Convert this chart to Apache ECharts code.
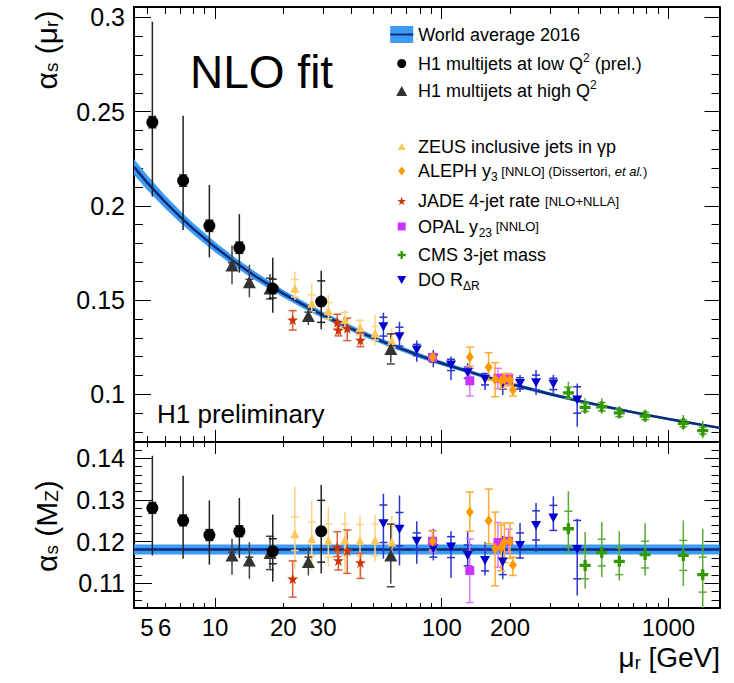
<!DOCTYPE html>
<html>
<head>
<meta charset="utf-8">
<script src="https://cdn.jsdelivr.net/npm/echarts@6/dist/echarts.min.js"></script>
<style>
  html, body { margin: 0; padding: 0; background: #fff; }
  #chart { width: 734px; height: 683px; }
</style>
</head>
<body>
<div id="chart"></div>
<script>
// ---------- world average running coupling ----------
const curveMu  = [4.39, 5, 6, 7, 8, 10, 12, 15, 20, 25, 30, 40, 50, 60, 80, 91.19, 100, 150, 200, 300, 400, 600, 800, 1000, 1300, 1690];
const curveAs  = [0.2207, 0.2126, 0.2022, 0.1943, 0.1879, 0.1781, 0.1709, 0.1628, 0.1534, 0.1469, 0.1420, 0.1349, 0.1299, 0.1261, 0.1205, 0.1181, 0.1165, 0.1099, 0.1056, 0.1002, 0.0966, 0.0921, 0.0891, 0.0869, 0.0845, 0.0822];
const curveErr = [0.0042, 0.0039, 0.0035, 0.0032, 0.0030, 0.0027, 0.0025, 0.0023, 0.0020, 0.0019, 0.0017, 0.0016, 0.0015, 0.0014, 0.0013, 0.0012, 0.0012, 0.0010, 0.0010, 0.0009, 0.0008, 0.0007, 0.0007, 0.0007, 0.0006, 0.0006];
const waMz = 0.1181;
const waMzErr = 0.0012;

// ---------- H1 multijets, low Q2 ----------
const h1LowMu      = [5.29, 7.23, 9.44, 12.8, 17.97, 29.4];
const h1LowTop     = [0.2444, 0.2134, 0.1894, 0.1778, 0.1561, 0.1492];
const h1LowTopHi   = [0.2977, 0.2478, 0.2111, 0.1956, 0.1725, 0.1656];
const h1LowTopLo   = [0.2049, 0.1872, 0.1727, 0.1646, 0.1433, 0.1345];
const h1LowTopStat = [0.003, 0.003, 0.003, 0.003, 0.005, 0.011];
const h1LowMz      = [0.1281, 0.1251, 0.1216, 0.1225, 0.1177, 0.1225];
const h1LowMzHi    = [0.1406, 0.1358, 0.1299, 0.1305, 0.1265, 0.1336];
const h1LowMzLo    = [0.1167, 0.1159, 0.1145, 0.1161, 0.1104, 0.1124];
const h1LowMzStat  = [0.0013, 0.0013, 0.0013, 0.0013, 0.003, 0.0074];

// ---------- H1 multijets, high Q2 ----------
const h1HighMu      = [11.88, 14.17, 17.48, 25.8, 59.6];
const h1HighTop     = [0.1683, 0.1595, 0.1561, 0.1416, 0.1241];
const h1HighTopHi   = [0.1789, 0.1687, 0.1639, 0.1457, 0.1324];
const h1HighTopLo   = [0.1584, 0.1515, 0.1501, 0.1368, 0.1168];
const h1HighTopStat = [0.0015, 0.0015, 0.0055, 0.002, 0.008];
const h1HighMz      = [0.1167, 0.1155, 0.1173, 0.1151, 0.1167];
const h1HighMzHi    = [0.1207, 0.1199, 0.1213, 0.1187, 0.1243];
const h1HighMzLo    = [0.1121, 0.1111, 0.1135, 0.1119, 0.1099];
const h1HighMzStat  = [0.0008, 0.0008, 0.004, 0.0012, 0.0075];

// ---------- ZEUS inclusive jets in photoproduction ----------
const zeusMu      = [22.5, 26.7, 31.6, 37.4, 43.6, 50.8, 60.2];
const zeusTop     = [0.1563, 0.1483, 0.1444, 0.1395, 0.1354, 0.1324, 0.1285];
const zeusTopHi   = [0.1651, 0.1589, 0.1527, 0.1448, 0.1398, 0.1421, 0.1350];
const zeusTopLo   = [0.1501, 0.1430, 0.1386, 0.1332, 0.1306, 0.1262, 0.1240];
const zeusTopStat = [0.0046, 0.0045, 0.0043, 0.0040, 0.0038, 0.0036, 0.0035];
const zeusMz      = [0.1219, 0.1207, 0.1203, 0.1205, 0.1203, 0.1204, 0.1200];
const zeusMzHi    = [0.1331, 0.1297, 0.1283, 0.1271, 0.1263, 0.1264, 0.1262];
const zeusMzLo    = [0.1135, 0.1131, 0.1140, 0.1123, 0.1111, 0.1152, 0.1168];
const zeusMzStat  = [0.0040, 0.0040, 0.0040, 0.0038, 0.0038, 0.0038, 0.0036];

// ---------- ALEPH y3 ----------
const alephMu    = [91.2, 133, 161, 172, 183, 189, 200, 206];
const alephTop   = [0.1196, 0.1198, 0.1143, 0.1078, 0.1072, 0.1080, 0.1076, 0.1023];
const alephTopHi = [0.1215, 0.1250, 0.1221, 0.1168, 0.1102, 0.1110, 0.1105, 0.1058];
const alephTopLo = [0.1178, 0.1150, 0.1076, 0.0987, 0.1032, 0.1045, 0.1045, 0.0991];
const alephMz    = [0.1201, 0.1271, 0.1250, 0.1184, 0.1186, 0.1199, 0.1201, 0.1144];
const alephMzHi  = [0.1225, 0.1319, 0.1326, 0.1271, 0.1240, 0.1245, 0.1245, 0.1163];
const alephMzLo  = [0.1180, 0.1225, 0.1195, 0.1094, 0.1130, 0.1150, 0.1160, 0.1119];

// ---------- JADE 4-jet rate ----------
const jadeMu    = [22.0, 34.6, 35.0, 38.3, 43.8];
const jadeTop   = [0.1395, 0.1382, 0.1341, 0.1350, 0.1288];
const jadeTopHi = [0.1444, 0.1425, 0.1375, 0.1404, 0.1324];
const jadeTopLo = [0.1341, 0.1345, 0.1310, 0.1285, 0.1253];
const jadeMz    = [0.1111, 0.1187, 0.1155, 0.1179, 0.1150];
const jadeMzHi  = [0.1154, 0.1224, 0.1176, 0.1228, 0.1172];
const jadeMzLo  = [0.1067, 0.1164, 0.1132, 0.1124, 0.1112];

// ---------- OPAL y23 ----------
const opalMu    = [91.0, 133, 177, 197];
const opalTop   = [0.1196, 0.1072, 0.1085, 0.1080];
const opalTopHi = [0.1215, 0.1138, 0.1138, 0.1110];
const opalTopLo = [0.1178, 0.0991, 0.1030, 0.1050];
const opalMz    = [0.1201, 0.1131, 0.1198, 0.1201];
const opalMzHi  = [0.1227, 0.1207, 0.1246, 0.1230];
const opalMzLo  = [0.1175, 0.1054, 0.1139, 0.1175];

// ---------- CMS 3-jet mass ----------
const cmsMu      = [362, 429, 508, 607, 789, 1163, 1417];
const cmsTop     = [0.1008, 0.0931, 0.0934, 0.0902, 0.0885, 0.0846, 0.0807];
const cmsTopHi   = [0.1067, 0.0979, 0.0979, 0.0938, 0.0920, 0.0890, 0.0860];
const cmsTopLo   = [0.0970, 0.0895, 0.0897, 0.0873, 0.0855, 0.0810, 0.0766];
const cmsTopStat = [0.0030, 0.0022, 0.0022, 0.0020, 0.0019, 0.0018, 0.0018];
const cmsMz      = [0.1231, 0.1143, 0.1174, 0.1153, 0.1169, 0.1167, 0.1121];
const cmsMzHi    = [0.1321, 0.1223, 0.1247, 0.1225, 0.1245, 0.1251, 0.1231];
const cmsMzLo    = [0.1171, 0.1087, 0.1115, 0.1107, 0.1119, 0.1094, 0.1030];
const cmsMzStat  = [0.0042, 0.0032, 0.0032, 0.0032, 0.0032, 0.0036, 0.0042];

// ---------- D0 R_dR ----------
const d0Mu      = [55.3, 65.1, 77.6, 91.8, 109.9, 130.2, 155.2, 185.8, 221.5, 260.6, 310.7, 396];
const d0Top     = [0.1359, 0.1306, 0.1235, 0.1191, 0.1156, 0.1115, 0.1080, 0.1058, 0.1058, 0.1062, 0.1055, 0.0970];
const d0TopHi   = [0.1433, 0.1385, 0.1285, 0.1235, 0.1200, 0.1165, 0.1115, 0.1102, 0.1103, 0.1129, 0.1103, 0.1058];
const d0TopLo   = [0.1288, 0.1235, 0.1173, 0.1143, 0.1076, 0.1067, 0.1023, 0.0996, 0.1012, 0.0996, 0.1005, 0.0828];
const d0TopStat = [0.005, 0.005, 0.003, 0.002, 0.003, 0.003, 0.003, 0.003, 0.003, 0.004, 0.003, 0.007];
const d0Mz      = [0.1243, 0.1230, 0.1201, 0.1183, 0.1187, 0.1167, 0.1155, 0.1151, 0.1191, 0.1239, 0.1257, 0.1181];
const d0MzHi    = [0.1315, 0.1311, 0.1249, 0.1231, 0.1225, 0.1223, 0.1199, 0.1214, 0.1245, 0.1293, 0.1309, 0.1255];
const d0MzLo    = [0.1159, 0.1143, 0.1147, 0.1155, 0.1113, 0.1125, 0.1119, 0.1110, 0.1159, 0.1174, 0.1227, 0.1071];
const d0MzStat  = [0.0045, 0.004, 0.002, 0.002, 0.0025, 0.0025, 0.0025, 0.003, 0.003, 0.0035, 0.003, 0.007];

// ---------- axis ticks and labels ----------
const muRange       = [4.39, 1680];
const xMinorTicks   = [5, 6, 7, 8, 9, 20, 30, 40, 50, 60, 70, 80, 90, 200, 300, 400, 500, 600, 700, 800, 900];
const xMajorTicks   = [10, 100, 1000];
const xTickLabels   = [5, 6, 10, 20, 30, 100, 200, 1000];
const topRange      = [0.0747, 0.3055];
const topMajorTicks = [0.1, 0.15, 0.2, 0.25, 0.3];
const topMinorTicks = [0.08, 0.09, 0.11, 0.12, 0.13, 0.14, 0.16, 0.17, 0.18, 0.19, 0.21, 0.22, 0.23, 0.24, 0.26, 0.27, 0.28, 0.29];
const botRange      = [0.1041, 0.1439];
const botMajorTicks = [0.11, 0.12, 0.13, 0.14];
const botMinorTicks = [0.106, 0.108, 0.112, 0.114, 0.116, 0.118, 0.122, 0.124, 0.126, 0.128, 0.132, 0.134, 0.136, 0.138, 0.142];

// ---------- drawing ----------
const FONT = 'Liberation Sans, Arial, Helvetica, sans-serif';
const BAND = '#3d9bf5';
const NAVY = '#0b2b78';
const lg = Math.log10;
const X_MIN = lg(muRange[0]);
const X_MAX = lg(muRange[1]);

const N_WA = 'World average 2016';
const N_H1L = 'H1 multijets at low Q2 (prel.)';
const N_H1H = 'H1 multijets at high Q2';
const N_ZEUS = 'ZEUS inclusive jets in γp';
const N_ALEPH = 'ALEPH y3 [NNLO] (Dissertori, et al.)';
const N_JADE = 'JADE 4-jet rate [NLO+NLLA]';
const N_OPAL = 'OPAL y23 [NNLO]';
const N_CMS = 'CMS 3-jet mass';
const N_D0 = 'DO RΔR';

const richLabels = {};
richLabels[N_WA] = '{t|World average 2016}';
richLabels[N_H1L] = '{t|H1 multijets at low Q}{sup|2}{t| (prel.)}';
richLabels[N_H1H] = '{t|H1 multijets at high Q}{sup|2}';
richLabels[N_ZEUS] = '{t|ZEUS inclusive jets in γp}';
richLabels[N_ALEPH] = '{t|ALEPH y}{sub|3}{sm| [NNLO] (Dissertori, }{smi|et al.}{sm|)}';
richLabels[N_JADE] = '{t|JADE 4-jet rate }{sm|[NLO+NLLA]}';
richLabels[N_OPAL] = '{t|OPAL y}{sub|23}{sm| [NNLO]}';
richLabels[N_CMS] = '{t|CMS 3-jet mass}';
richLabels[N_D0] = '{t|DO R}{sub|ΔR}';

const STAR = 'path://M50,0L61,35L98,35L68,57L79,91L50,70L21,91L32,57L2,35L39,35Z';
const CROSS = 'path://M35,0H65V35H100V65H65V100H35V65H0V35H35Z';
const DOWN = 'path://M0,0H100L50,87Z';

// each measurement: values in both panels, marker and bar style
const sets = [
  { name: N_ZEUS, mu: zeusMu, top: [zeusTop, zeusTopHi, zeusTopLo, zeusTopStat], mz: [zeusMz, zeusMzHi, zeusMzLo, zeusMzStat],
    symbol: 'triangle', size: 9, color: '#ffc65a', bar: '#ffd27f' },
  { name: N_JADE, mu: jadeMu, top: [jadeTop, jadeTopHi, jadeTopLo, null], mz: [jadeMz, jadeMzHi, jadeMzLo, null],
    symbol: STAR, size: 11, color: '#cc3300', bar: '#d9603a' },
  { name: N_D0, mu: d0Mu, top: [d0Top, d0TopHi, d0TopLo, d0TopStat], mz: [d0Mz, d0MzHi, d0MzLo, d0MzStat],
    symbol: DOWN, size: [10, 9], color: '#0000cc', bar: '#2a35cc' },
  { name: N_OPAL, mu: opalMu, top: [opalTop, opalTopHi, opalTopLo, null], mz: [opalMz, opalMzHi, opalMzLo, null],
    symbol: 'rect', size: 9, color: '#cc33ff', bar: '#dc7cff' },
  { name: N_ALEPH, mu: alephMu, top: [alephTop, alephTopHi, alephTopLo, null], mz: [alephMz, alephMzHi, alephMzLo, null],
    symbol: 'diamond', size: [8, 11], color: '#ff9900', bar: '#ffab33' },
  { name: N_CMS, mu: cmsMu, top: [cmsTop, cmsTopHi, cmsTopLo, cmsTopStat], mz: [cmsMz, cmsMzHi, cmsMzLo, cmsMzStat],
    symbol: CROSS, size: 11, color: '#339900', bar: '#5aab33' },
  { name: N_H1H, mu: h1HighMu, top: [h1HighTop, h1HighTopHi, h1HighTopLo, h1HighTopStat], mz: [h1HighMz, h1HighMzHi, h1HighMzLo, h1HighMzStat],
    symbol: 'triangle', size: [13, 12], color: '#333333', bar: '#444444' },
  { name: N_H1L, mu: h1LowMu, top: [h1LowTop, h1LowTopHi, h1LowTopLo, h1LowTopStat], mz: [h1LowMz, h1LowMzHi, h1LowMzLo, h1LowMzStat],
    symbol: 'circle', size: 12, color: '#000000', bar: '#222222' }
];

function points(mu, v) { return mu.map((m, i) => [lg(m), v[i]]); }
function bars(mu, v, hi, lo, stat) {
  return mu.map((m, i) => {
    const s = stat ? stat[i] : null;
    return [lg(m), lo[i], hi[i], s == null ? lo[i] : v[i] - s, s == null ? hi[i] : v[i] + s];
  });
}
function barRenderer(color) {
  return function (params, api) {
    const x = api.value(0);
    const a = api.coord([x, api.value(1)]);
    const b = api.coord([x, api.value(2)]);
    const s1 = api.coord([x, api.value(3)]);
    const s2 = api.coord([x, api.value(4)]);
    const st = { stroke: color, lineWidth: 1.5 };
    return {
      type: 'group',
      children: [
        { type: 'line', shape: { x1: a[0], y1: a[1], x2: b[0], y2: b[1] }, style: st },
        { type: 'line', shape: { x1: s1[0] - 4, y1: s1[1], x2: s1[0] + 4, y2: s1[1] }, style: st },
        { type: 'line', shape: { x1: s2[0] - 4, y1: s2[1], x2: s2[0] + 4, y2: s2[1] }, style: st }
      ]
    };
  };
}

// axis factories: every frame edge gets a short-tick axis and a long-tick axis
function xAx(grid, pos, ticks, len, line, labels) {
  return {
    type: 'value', gridIndex: grid, position: pos, min: X_MIN, max: X_MAX,
    axisLine: { show: line, onZero: false, lineStyle: { color: '#000', width: 2 } },
    axisTick: { show: true, inside: true, length: len, customValues: ticks.map(lg), lineStyle: { color: '#000', width: 1 } },
    axisLabel: labels ? {
      show: true, customValues: labels.map(lg), margin: 7, color: '#000', fontSize: 24, fontFamily: FONT,
      formatter: v => String(Math.round(Math.pow(10, v)))
    } : { show: false },
    splitLine: { show: false }
  };
}
function yAx(grid, pos, range, ticks, len, line, labels) {
  return {
    type: 'value', gridIndex: grid, position: pos, min: range[0], max: range[1],
    axisLine: { show: line, onZero: false, lineStyle: { color: '#000', width: 2 } },
    axisTick: { show: true, inside: true, length: len, customValues: ticks, lineStyle: { color: '#000', width: 1 } },
    axisLabel: labels ? {
      show: true, customValues: labels, margin: 9, color: '#000', fontSize: 25, fontFamily: FONT,
      formatter: v => String(+v.toFixed(3))
    } : { show: false },
    splitLine: { show: false }
  };
}

const xAxes = [
  xAx(0, 'bottom', xMinorTicks, 6, true, null),
  xAx(0, 'bottom', xMajorTicks, 12, false, null),
  xAx(0, 'top', xMinorTicks, 7, true, null),
  xAx(0, 'top', xMajorTicks, 12, false, null),
  xAx(1, 'bottom', xMinorTicks, 5, true, xTickLabels),
  xAx(1, 'bottom', xMajorTicks, 10, false, null),
  xAx(1, 'top', xMinorTicks, 5, true, null),
  xAx(1, 'top', xMajorTicks, 12, false, null)
];
const yAxes = [
  yAx(0, 'left', topRange, topMinorTicks, 9, true, null),
  yAx(0, 'left', topRange, topMajorTicks, 17, false, topMajorTicks),
  yAx(0, 'right', topRange, topMinorTicks, 8, true, null),
  yAx(0, 'right', topRange, topMajorTicks, 15, false, null),
  yAx(1, 'left', botRange, botMinorTicks, 8, true, null),
  yAx(1, 'left', botRange, botMajorTicks, 18, false, botMajorTicks),
  yAx(1, 'right', botRange, botMinorTicks, 8, true, null),
  yAx(1, 'right', botRange, botMajorTicks, 15, false, null)
];

const series = [];
// running coupling: uncertainty band as one polygon, then the central line
const bandData = curveMu.map((m, i) => [lg(m), curveAs[i] - curveErr[i], curveAs[i] + curveErr[i]]);
series.push({
  type: 'custom', name: N_WA, xAxisIndex: 0, yAxisIndex: 0, silent: true, clip: true, z: 1,
  itemStyle: { color: BAND }, data: bandData,
  renderItem: (params, api) => {
    if (params.dataIndex !== 0) return null;
    const upper = bandData.map(d => api.coord([d[0], d[2]]));
    const lower = bandData.map(d => api.coord([d[0], d[1]])).reverse();
    return { type: 'polygon', shape: { points: upper.concat(lower) }, style: { fill: BAND } };
  }
});
series.push({
  type: 'line', xAxisIndex: 0, yAxisIndex: 0, silent: true, symbol: 'none', z: 2,
  data: curveMu.map((m, i) => [lg(m), curveAs[i]]), lineStyle: { color: NAVY, width: 2.5 }
});
// world average at M_Z
series.push({
  type: 'line', xAxisIndex: 4, yAxisIndex: 4, silent: true, symbol: 'none', z: 2,
  data: [[X_MIN, waMz], [X_MAX, waMz]], lineStyle: { color: NAVY, width: 2.5 },
  markArea: { silent: true, itemStyle: { color: BAND, opacity: 1 }, data: [[{ yAxis: waMz - waMzErr }, { yAxis: waMz + waMzErr }]] }
});

sets.forEach(s => {
  [[0, s.top], [4, s.mz]].forEach(([ax, v]) => {
    series.push({
      type: 'custom', xAxisIndex: ax, yAxisIndex: ax, silent: true, clip: true, z: 3,
      data: bars(s.mu, v[0], v[1], v[2], v[3]), renderItem: barRenderer(s.bar)
    });
  });
});
sets.forEach(s => {
  [[0, s.top], [4, s.mz]].forEach(([ax, v]) => {
    series.push({
      type: 'scatter', name: s.name, xAxisIndex: ax, yAxisIndex: ax, silent: true, z: 5,
      symbol: s.symbol, symbolSize: s.size, itemStyle: { color: s.color, opacity: 1 },
      data: points(s.mu, v[0])
    });
  });
});

// one legend block per row; marker centred at x = 401.7, text starting at x = 418
const ICON_CX = 401.7;
const TEXT_X = 418;
const legendRows = [
  [N_WA, 34.5, 23, 17, 'rect'], [N_H1L, 63.5, 9, 9], [N_H1H, 91, 11, 10],
  [N_ZEUS, 146.5, 8, 7], [N_ALEPH, 171, 7, 9], [N_JADE, 201, 9, 9],
  [N_OPAL, 226.5, 8, 8], [N_CMS, 255, 8, 8], [N_D0, 280, 9, 8]
];
const legendRich = {
  t: { fontSize: 18, lineHeight: 24, color: '#000', fontFamily: FONT },
  sup: { fontSize: 12, lineHeight: 16, verticalAlign: 'top', color: '#000', fontFamily: FONT },
  sub: { fontSize: 12, lineHeight: 10, verticalAlign: 'bottom', color: '#000', fontFamily: FONT },
  sm: { fontSize: 13, lineHeight: 24, color: '#000', fontFamily: FONT },
  smi: { fontSize: 13, lineHeight: 24, fontStyle: 'italic', color: '#000', fontFamily: FONT }
};
const legends = legendRows.map(([name, cy, w, h, icon]) => {
  const left = ICON_CX - w / 2;
  const gap = Math.max(0, TEXT_X - (left + w + 5));
  return {
    left: left, top: cy - 12, padding: 0, orient: 'vertical', selectedMode: false,
    itemWidth: w, itemHeight: h, symbolKeepAspect: true,
    data: [icon ? { name: name, icon: icon, itemStyle: { color: BAND } } : { name: name }],
    formatter: n => richLabels[n],
    textStyle: { fontSize: 18, lineHeight: 24, color: '#000', fontFamily: FONT, padding: [0, 0, 0, gap], rich: legendRich }
  };
});

const titleRich = {
  a: { fontSize: 30, lineHeight: 30, color: '#000', fontFamily: FONT },
  s: { fontSize: 19, lineHeight: 6, verticalAlign: 'bottom', color: '#000', fontFamily: FONT }
};

const option = {
  animation: false,
  backgroundColor: '#fff',
  textStyle: { fontFamily: FONT },
  grid: [
    { left: 134, top: 7, width: 585.5, height: 435, outerBoundsMode: 'none', containLabel: false },
    { left: 134, top: 442, width: 585.5, height: 166, outerBoundsMode: 'none', containLabel: false }
  ],
  xAxis: xAxes,
  yAxis: yAxes,
  legend: legends,
  series: series,
  graphic: [
    { type: 'rect', z: 100, shape: { x: 390.2, y: 33.5, width: 23, height: 2 }, style: { fill: NAVY } },
    { type: 'text', z: 100, x: 190, y: 71.5, style: { text: 'NLO fit', fontSize: 46, fontFamily: FONT, fill: '#000', align: 'left', verticalAlign: 'middle' } },
    { type: 'text', z: 100, x: 157, y: 414, style: { text: 'H1 preliminary', fontSize: 26, fontFamily: FONT, fill: '#000', align: 'left', verticalAlign: 'middle' } },
    { type: 'text', z: 100, x: 46, y: 50, rotation: Math.PI / 2,
      style: { text: '{a|α}{s|s}{a| (μ}{s|r}{a|)}', rich: titleRich, align: 'center', verticalAlign: 'middle' } },
    { type: 'text', z: 100, x: 46, y: 526, rotation: Math.PI / 2,
      style: { text: '{a|α}{s|s}{a| (M}{s|Z}{a|)}', rich: titleRich, align: 'center', verticalAlign: 'middle' } },
    { type: 'text', z: 100, x: 720, y: 657,
      style: { text: '{a|μ}{s|r}{a| [GeV]}', rich: {
        a: { fontSize: 28, lineHeight: 30, color: '#000', fontFamily: FONT },
        s: { fontSize: 18, lineHeight: 10, verticalAlign: 'bottom', color: '#000', fontFamily: FONT }
      }, align: 'right', verticalAlign: 'middle' } }
  ]
};

const chart = echarts.init(document.getElementById('chart'), null, { renderer: 'svg' });
chart.setOption(option);
</script>
</body>
</html>
